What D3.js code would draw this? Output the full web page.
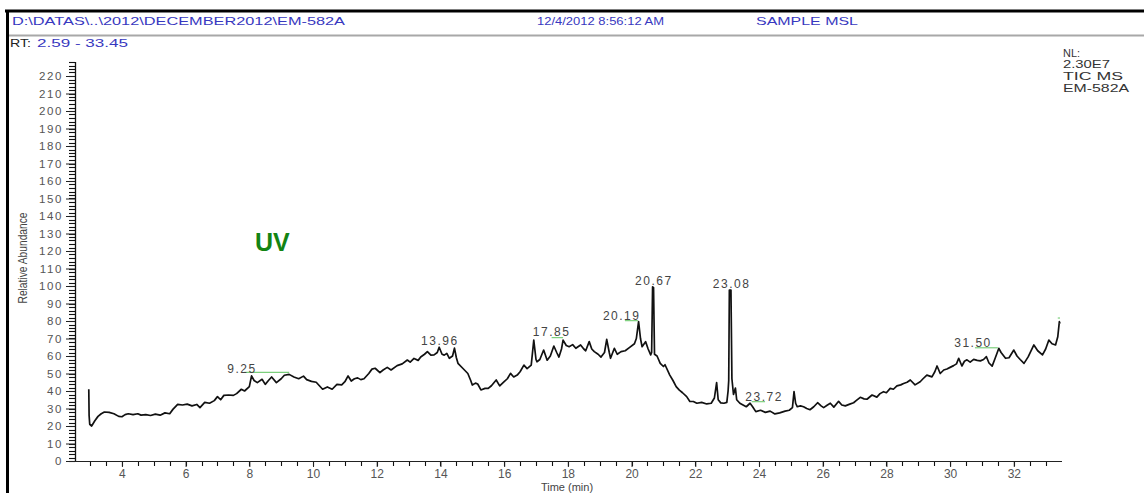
<!DOCTYPE html>
<html>
<head>
<meta charset="utf-8">
<script src="https://cdn.jsdelivr.net/npm/d3@7"></script>
<style>
  body { margin: 0; background: #fff; }
  text { font-family: "Liberation Sans", Arial, sans-serif; }
</style>
</head>
<body>
<div id="chart"></div>
<script>
// retention time (min) and relative abundance of the TIC trace
const rtTime = [
  2.96, 2.97, 2.99, 3.05, 3.15, 3.25, 3.35, 3.45, 3.6, 3.75, 3.9, 4.0, 4.1, 4.2, 4.35, 4.5, 4.6, 4.75, 4.9, 5.05,
  5.2, 5.35, 5.5, 5.6, 5.75, 5.9, 6.05, 6.2, 6.35, 6.45, 6.6, 6.75, 6.9, 7.0, 7.1, 7.2, 7.35, 7.5, 7.6, 7.75,
  7.85, 8.0, 8.07, 8.15, 8.25, 8.4, 8.5, 8.6, 8.7, 8.85, 9.0, 9.1, 9.25, 9.4, 9.55, 9.7, 9.8, 9.95, 10.1, 10.2,
  10.3, 10.45, 10.6, 10.75, 10.9, 11.0, 11.1, 11.2, 11.3, 11.4, 11.5, 11.6, 11.75, 11.85, 11.95, 12.1, 12.2, 12.33, 12.45, 12.64,
  12.8, 12.96, 13.05, 13.17, 13.3, 13.38, 13.5, 13.59, 13.7, 13.8, 13.9, 13.96, 14.05, 14.12, 14.2, 14.28, 14.38, 14.44, 14.5, 14.55,
  14.7, 14.86, 14.95, 15.0, 15.1, 15.17, 15.27, 15.4, 15.5, 15.6, 15.75, 15.86, 16.0, 16.1, 16.2, 16.3, 16.41, 16.5, 16.62, 16.72,
  16.85, 16.93, 17.0, 17.03, 17.12, 17.24, 17.35, 17.45, 17.56, 17.65, 17.72, 17.8, 17.85, 17.95, 18.04, 18.15, 18.25, 18.4, 18.5, 18.56,
  18.67, 18.75, 18.83, 18.95, 19.04, 19.15, 19.22, 19.3, 19.34, 19.46, 19.55, 19.67, 19.8, 19.93, 20.09, 20.15, 20.22, 20.28, 20.33, 20.44,
  20.52, 20.6, 20.63, 20.66, 20.69, 20.72, 20.8, 20.9, 21.0, 21.05, 21.2, 21.3, 21.4, 21.5, 21.6, 21.73, 21.83, 21.94, 22.05, 22.2,
  22.36, 22.5, 22.6, 22.67, 22.72, 22.8, 22.9, 22.99, 23.03, 23.05, 23.07, 23.12, 23.15, 23.2, 23.26, 23.3, 23.4, 23.5, 23.6, 23.72,
  23.8, 23.9, 24.05, 24.2, 24.35, 24.5, 24.65, 24.82, 24.95, 25.05, 25.1, 25.15, 25.2, 25.3, 25.4, 25.5, 25.6, 25.72, 25.84, 25.95,
  26.03, 26.15, 26.24, 26.35, 26.5, 26.6, 26.71, 26.85, 26.97, 27.05, 27.18, 27.3, 27.39, 27.55, 27.7, 27.8, 27.91, 28.0, 28.12, 28.22,
  28.33, 28.45, 28.54, 28.65, 28.75, 28.9, 29.06, 29.15, 29.27, 29.43, 29.52, 29.59, 29.69, 29.8, 29.9, 30.0, 30.11, 30.2, 30.27, 30.37,
  30.45, 30.53, 30.63, 30.74, 30.85, 30.95, 31.05, 31.14, 31.22, 31.32, 31.42, 31.53, 31.6, 31.74, 31.85, 32.0, 32.1, 32.2, 32.32, 32.45,
  32.63, 32.75, 32.9, 33.0, 33.1, 33.2, 33.31, 33.38, 33.43, 33.45
];
const abundance = [
  41, 26, 21, 20, 23, 25.5, 27, 28, 27.8, 27, 25.5, 25.3, 26.5, 27, 26.5, 27, 26.2, 26.5, 26, 26.8,
  26.2, 27.5, 27, 29.5, 32.4, 32, 32.5, 31.5, 32.3, 30.5, 33.5, 33, 34.5, 36.8, 35, 37.5, 37.7, 37.5, 38.5, 41,
  40, 42.5, 48.6, 46, 44.8, 46.7, 43.8, 46, 48, 44.8, 47, 49, 49.5, 48, 47, 48.5, 46.5, 45.5, 45, 43,
  41, 42.3, 41, 43.8, 43.5, 45.3, 48.6, 45.7, 47, 47.5, 46.5, 47, 50, 52.5, 53, 50.5, 52, 53.5, 52, 54.5,
  55.5, 57.7, 56.5, 58.6, 57.5, 59.4, 61, 62.5, 60.5, 60.6, 62, 65, 61, 60.5, 61.5, 58.7, 60, 64.5, 59, 55.8,
  53, 50, 46, 43.4, 44.5, 44, 40.6, 41.5, 41.5, 43, 46.3, 42.9, 45.3, 47, 50.1, 48, 49.1, 51, 54.8, 52.8,
  54.8, 69.1, 58, 56.7, 58, 63.4, 57.6, 60, 65.7, 62, 59.4, 64, 69.1, 66, 65.3, 66.5, 64.4, 66.3, 64, 63,
  68.2, 64, 62.5, 61, 59.4, 62, 69.5, 62, 58.7, 64.4, 61, 62.5, 63, 64.8, 67, 70, 79.6, 70, 65.3, 68.2,
  64, 60.6, 62, 99.5, 99, 61, 60, 55.8, 54, 55, 49.1, 46, 42.5, 40.5, 39, 36.8, 34, 34, 33, 33.5,
  32.6, 33, 36, 44.8, 35, 33.2, 33, 33.5, 40, 46, 97.7, 97.7, 47, 38, 41.7, 35, 33, 32, 31, 33,
  31, 28.2, 29, 27.8, 28.5, 26.9, 27.5, 28.5, 29, 30.5, 39.6, 33, 31, 31.5, 31, 30, 29.3, 31, 33.3, 31.5,
  30.5, 32, 33, 30.8, 34.1, 32, 31.5, 32.5, 33.3, 34.5, 36.4, 35.5, 35.3, 37.7, 36.5, 38.5, 39.6, 39, 41.5, 41,
  42.9, 43.5, 44.3, 45, 46.3, 43.5, 45.3, 47, 49.1, 48.1, 51, 54.3, 50, 52, 52.6, 53.5, 54.5, 55.5, 58.7, 54.3,
  57, 57.8, 56.5, 58.1, 57.5, 57.2, 58, 59.6, 56, 54.2, 59, 64.4, 62, 58.7, 59, 63.4, 60, 58, 55.8, 59.5,
  66.3, 63, 60.6, 64, 69.1, 67, 66.3, 71, 79.6, 78.5
];

// peak labels: text, where the label sits (time, abundance)
const peakText = ["9.25", "13.96", "17.85", "20.19", "20.67", "23.08", "23.72", "31.50"];
const peakLabelTime = [7.77, 13.98, 17.49, 19.69, 20.70, 23.14, 24.16, 30.72];
const peakLabelAbund = [50.3, 66.3, 71.4, 80.6, 100.6, 98.9, 34.3, 65.1];

// green peak markers (time from, time to, abundance)
const markFrom = [7.84, 17.49, 19.79, 23.77, 30.78, 33.38];
const markTo = [9.25, 17.85, 20.2, 24.19, 31.5, 33.45];
const markAbund = [50.7, 70.5, 80.2, 33.9, 64.7, 81.7];

const rtRange = [2.59, 33.45];
const abundMax = 228;
const yMajor = d3.range(0, 221, 10);
const yMinor = d3.range(0, 229, 2);
const xMajor = d3.range(4, 33, 2);
const xMinor = d3.range(3, 33.1, 0.5);

const infoLines = ["NL:", "2.30E7", "TIC  MS", "EM-582A"];

const width = 1144;
const height = 493;

const svg = d3.select("#chart").append("svg")
  .attr("width", width)
  .attr("height", height);

// frame lines of the printout
svg.append("line").attr("x1", 5).attr("x2", width).attr("y1", 11).attr("y2", 11)
  .attr("stroke", "#000").attr("stroke-width", 3);
svg.append("line").attr("x1", 7.5).attr("x2", 7.5).attr("y1", 10).attr("y2", height)
  .attr("stroke", "#000").attr("stroke-width", 3);
svg.append("line").attr("x1", 9).attr("x2", width).attr("y1", 35.5).attr("y2", 35.5)
  .attr("stroke", "#a8a8a8").attr("stroke-width", 2);

// header
const blue = "#3838c0";
svg.append("text").attr("x", 12).attr("y", 25).attr("font-size", 11).attr("fill", blue)
  .attr("textLength", 333).attr("lengthAdjust", "spacingAndGlyphs")
  .text("D:\\DATAS\\..\\2012\\DECEMBER2012\\EM-582A");
svg.append("text").attr("x", 537).attr("y", 25).attr("font-size", 11).attr("fill", blue)
  .attr("textLength", 127).attr("lengthAdjust", "spacingAndGlyphs")
  .text("12/4/2012 8:56:12 AM");
svg.append("text").attr("x", 756).attr("y", 25).attr("font-size", 11).attr("fill", blue)
  .attr("textLength", 102).attr("lengthAdjust", "spacingAndGlyphs")
  .text("SAMPLE MSL");
svg.append("text").attr("x", 10).attr("y", 47).attr("font-size", 11).attr("fill", "#222")
  .attr("textLength", 21).attr("lengthAdjust", "spacingAndGlyphs").text("RT:");
svg.append("text").attr("x", 37).attr("y", 47).attr("font-size", 11).attr("fill", blue)
  .attr("textLength", 91).attr("lengthAdjust", "spacingAndGlyphs").text("2.59 - 33.45");

// info block top right
const infoLen = [17, 47, 60, 66];
const infoY = [57, 68, 80, 91.5];
infoLines.forEach((s, i) => {
  svg.append("text").attr("x", 1063).attr("y", infoY[i]).attr("font-size", 11).attr("fill", "#333")
    .attr("textLength", infoLen[i]).attr("lengthAdjust", "spacingAndGlyphs").text(s);
});

// scales
const x = d3.scaleLinear().domain(rtRange).range([77, 1060]);
const y = d3.scaleLinear().domain([0, abundMax]).range([461, 62]);
const axisX = 75;

// minor ticks drawn as plain lines from the scales
const minorG = svg.append("g").attr("stroke", "#111").attr("stroke-width", 1.1);
minorG.selectAll("line.ym").data(yMinor).join("line").attr("class", "ym")
  .attr("x1", axisX - 6).attr("x2", axisX)
  .attr("y1", d => Math.round(y(d)) + 0.5).attr("y2", d => Math.round(y(d)) + 0.5);
minorG.selectAll("line.xm").data(xMinor).join("line").attr("class", "xm")
  .attr("x1", d => Math.round(x(d)) + 0.5).attr("x2", d => Math.round(x(d)) + 0.5)
  .attr("y1", y(0)).attr("y2", y(0) + 5);

// y axis with labelled major ticks
const gy = svg.append("g").attr("transform", `translate(${axisX},0)`)
  .call(d3.axisLeft(y).tickValues(yMajor).tickSize(9).tickPadding(3));
gy.select(".domain").attr("d", `M0.5,${y(0)}V${y(abundMax)}`).attr("stroke", "#111").attr("stroke-width", 1.3);
gy.selectAll(".tick line").attr("stroke", "#222");
gy.selectAll(".tick text")
  .attr("font-family", "Liberation Sans, Arial, sans-serif")
  .attr("font-size", 11.5).attr("fill", "#555").attr("letter-spacing", 1.6);

// x axis
const gx = svg.append("g").attr("transform", `translate(0,${y(0)})`)
  .call(d3.axisBottom(x).tickValues(xMajor).tickSize(6).tickPadding(2).tickFormat(d3.format("d")));
gx.select(".domain").attr("d", `M${axisX},0.5H1062`).attr("stroke", "#222").attr("stroke-width", 1.2);
gx.selectAll(".tick line").attr("stroke", "#222");
gx.selectAll(".tick text")
  .attr("font-family", "Liberation Sans, Arial, sans-serif")
  .attr("font-size", 12).attr("fill", "#555");

// axis titles
svg.append("text").attr("x", 567).attr("y", 491).attr("text-anchor", "middle")
  .attr("font-size", 11).attr("fill", "#444").text("Time (min)");
svg.append("text").attr("transform", "translate(27,258) rotate(-90)").attr("text-anchor", "middle")
  .attr("font-size", 12).attr("fill", "#444")
  .attr("textLength", 91).attr("lengthAdjust", "spacingAndGlyphs").text("Relative Abundance");

// trace
const points = rtTime.map((t, i) => [t, abundance[i]]);
svg.append("path")
  .datum(points)
  .attr("fill", "none")
  .attr("stroke", "#111")
  .attr("stroke-width", 1.7)
  .attr("stroke-linejoin", "round")
  .attr("d", d3.line().x(d => x(d[0])).y(d => y(d[1])));

// green peak markers
markFrom.forEach((t0, i) => {
  svg.append("line")
    .attr("x1", x(t0)).attr("x2", x(markTo[i]))
    .attr("y1", y(markAbund[i])).attr("y2", y(markAbund[i]))
    .attr("stroke", "#7ccf7c").attr("stroke-width", 1.2);
});

// peak labels
svg.append("g").selectAll("text")
  .data(peakText)
  .join("text")
  .attr("x", (d, i) => x(peakLabelTime[i]))
  .attr("y", (d, i) => y(peakLabelAbund[i]))
  .attr("text-anchor", "middle")
  .attr("font-size", 12)
  .attr("letter-spacing", 1.5)
  .attr("fill", "#444")
  .text(d => d);

// UV annotation
svg.append("text").attr("x", 255).attr("y", 251).attr("font-size", 25).attr("font-weight", "bold")
  .attr("fill", "#138413").text("UV");
</script>
</body>
</html>
